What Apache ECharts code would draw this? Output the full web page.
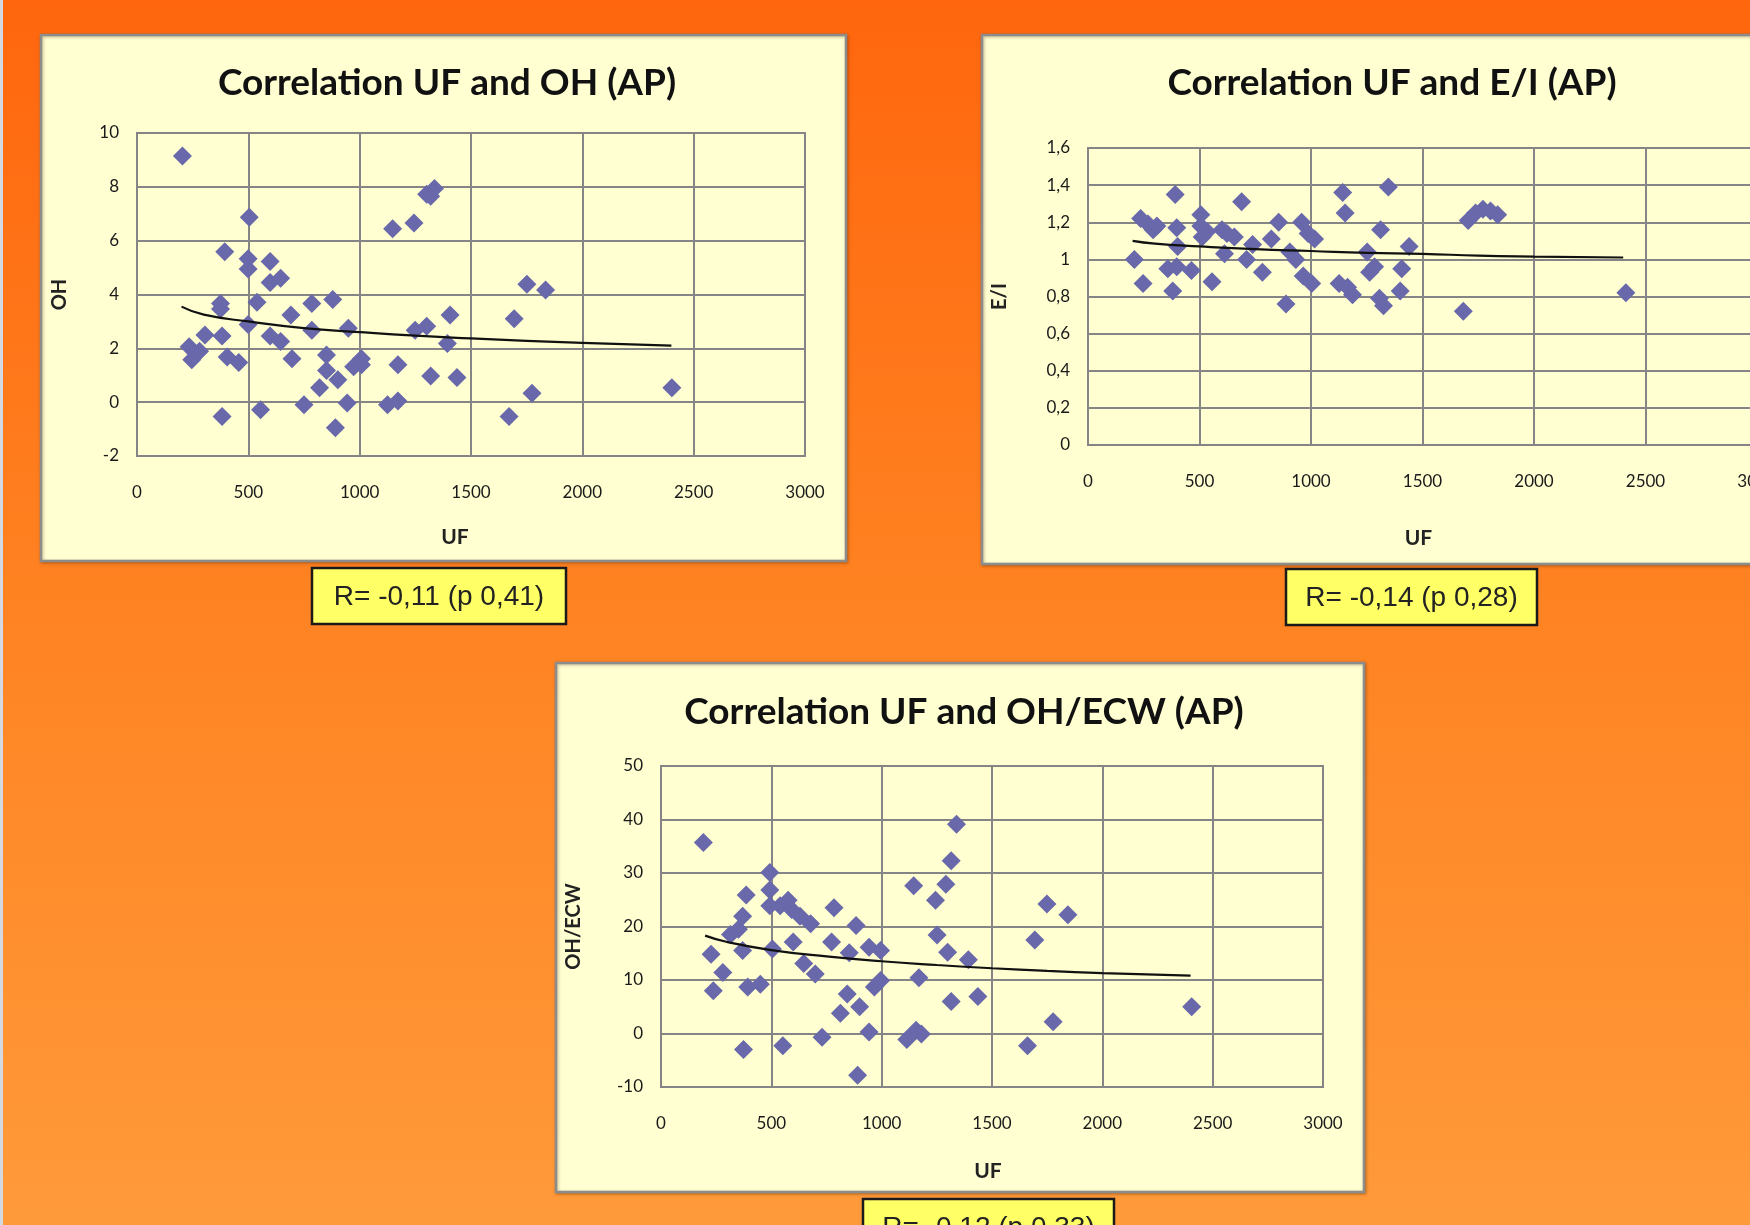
<!DOCTYPE html>
<html>
<head>
<meta charset="utf-8">
<script src="https://cdn.jsdelivr.net/npm/echarts@6/dist/echarts.min.js"></script>
<style>
html,body{margin:0;padding:0;width:1750px;height:1225px;overflow:hidden;}
#c{width:1750px;height:1225px;}
</style>
</head>
<body>
<div id="c"></div>
<script>
// ---- data ----
const titles = ['Correlation UF and OH (AP)', 'Correlation UF and E/I (AP)', 'Correlation UF and OH/ECW (AP)'];
const yNames = ['OH', 'E/I', 'OH/ECW'];
const xName = 'UF';
const rTexts = ['R= -0,11 (p 0,41)', 'R= -0,14 (p 0,28)', 'R= -0,12 (p 0,33)'];

const ohPoints = [[204,9.15],[504,6.87],[394,5.59],[499,5.33],[499,4.95],[598,5.23],[598,4.45],[645,4.6],[375,3.67],[375,3.46],[539,3.71],[499,2.89],[691,3.24],[785,3.67],[879,3.81],[785,2.67],[949,2.75],[382,2.46],[305,2.5],[234,2.06],[246,1.58],[281,1.89],[598,2.46],[645,2.25],[405,1.68],[457,1.47],[696,1.61],[851,1.75],[851,1.18],[902,0.83],[820,0.54],[973,1.32],[1008,1.61],[1008,1.39],[750,-0.1],[944,-0.03],[891,-0.95],[382,-0.53],[555,-0.28],[1125,-0.1],[1172,0.04],[1172,1.39],[1148,6.44],[1244,6.66],[1301,7.72],[1336,7.94],[1319,7.65],[1249,2.67],[1301,2.82],[1406,3.24],[1394,2.18],[1319,0.97],[1437,0.92],[1694,3.1],[1751,4.38],[1835,4.17],[1774,0.33],[1671,-0.53],[2402,0.54]];
const ohTrend = [[200,3.55],[300,3.25],[500,3.0],[750,2.75],[1000,2.6],[1250,2.47],[1500,2.37],[1750,2.28],[2000,2.2],[2400,2.1]];

const eiPoints = [[208,1.0],[236,1.22],[247,0.87],[269,1.19],[292,1.16],[309,1.18],[391,1.35],[398,1.17],[402,1.07],[358,0.95],[398,0.96],[380,0.83],[464,0.94],[506,1.24],[506,1.18],[512,1.12],[534,1.15],[556,0.88],[601,1.16],[623,1.14],[656,1.12],[612,1.03],[689,1.31],[711,1.0],[738,1.08],[782,0.93],[822,1.11],[855,1.2],[888,0.76],[905,1.04],[932,1.0],[958,1.2],[965,0.91],[987,1.14],[1003,0.87],[1016,1.11],[1142,1.36],[1153,1.25],[1126,0.87],[1164,0.85],[1186,0.81],[1252,1.04],[1263,0.93],[1285,0.96],[1312,1.16],[1307,0.79],[1325,0.75],[1347,1.39],[1407,0.95],[1400,0.83],[1440,1.07],[1683,0.72],[1705,1.21],[1738,1.25],[1771,1.27],[1805,1.26],[1837,1.24],[2412,0.82]];
const eiTrend = [[200,1.1],[300,1.085],[500,1.07],[750,1.055],[1000,1.045],[1250,1.035],[1500,1.03],[1750,1.02],[2000,1.015],[2400,1.01]];

const ohEcwPoints = [[192,35.7],[227,14.8],[237,8.0],[280,11.4],[315,18.5],[351,19.5],[370,21.9],[386,25.9],[370,15.5],[393,8.7],[450,9.2],[374,-3.0],[493,30.1],[493,26.8],[493,23.9],[505,15.8],[540,23.9],[576,24.9],[592,23.2],[599,17.1],[630,21.9],[678,20.5],[647,13.1],[699,11.1],[552,-2.3],[730,-0.7],[784,23.5],[773,17.1],[884,20.2],[853,15.1],[844,7.4],[813,3.8],[900,5.0],[943,16.1],[995,15.5],[967,8.7],[995,9.9],[943,0.3],[891,-7.8],[1145,27.6],[1169,10.4],[1114,-1.1],[1156,0.6],[1180,-0.1],[1244,24.9],[1251,18.4],[1291,27.9],[1315,32.3],[1339,39.1],[1299,15.2],[1315,6.0],[1393,13.8],[1436,6.9],[1661,-2.3],[1694,17.5],[1749,24.2],[1844,22.2],[1777,2.2],[2405,5.0]];
const ohEcwTrend = [[200,18.3],[300,17.1],[500,15.6],[750,14.4],[1000,13.5],[1250,12.8],[1500,12.2],[1750,11.7],[2000,11.3],[2400,10.8]];

const xRange = {min: 0, max: 3000, interval: 500};
const yRanges = [{min: -2, max: 10, interval: 2}, {min: 0, max: 1.6, interval: 0.2}, {min: -10, max: 50, interval: 10}];

// ---- layout / style ----
const grids = [
  {left: 137, top: 133, width: 668, height: 323},
  {left: 1088, top: 148, width: 669, height: 297},
  {left: 661, top: 766, width: 662, height: 321}
];
const panels = [
  {x: 41, y: 35, w: 805, h: 526},
  {x: 982, y: 35, w: 820, h: 529},
  {x: 556, y: 663, w: 808, h: 529}
];
const rBoxes = [
  {x: 312, y: 568, w: 254, h: 56},
  {x: 1286, y: 569, w: 251, h: 56},
  {x: 863, y: 1199, w: 251, h: 56}
];
const titlePos = [[442, 60], [1387, 60], [959, 689]];
const xNameGap = [71, 83, 74];
const xNamePad = [[0, 32, 0, 0], [0, 8, 0, 0], [0, 8, 0, 0]];
const yNameGap = [67, 78, 77];

const markColor = '#6868aa';
const gridColor = '#858585';
const FONT = 'Lato, "Open Sans", sans-serif';

function fmtY(v) {
  const r = Math.round(v * 10) / 10;
  return String(r).replace('.', ',');
}
function fmtX(v) {
  return String(v);
}

const chart = echarts.init(document.getElementById('c'), null, {renderer: 'canvas'});

const graphics = [];
// left light strip
graphics.push({type: 'rect', z: -20, shape: {x: 0, y: 0, width: 3, height: 1225}, style: {fill: '#d4d8e0'}});
panels.forEach(p => {
  graphics.push({type: 'rect', z: -10, shape: {x: p.x, y: p.y, width: p.w, height: p.h},
    style: {fill: '#ffffd2', stroke: '#8c8c8c', lineWidth: 2.5,
      shadowColor: 'rgba(80,40,0,0.35)', shadowBlur: 3, shadowOffsetX: 1, shadowOffsetY: 1}});
});
rBoxes.forEach((b, i) => {
  graphics.push({type: 'rect', z: 10, shape: {x: b.x, y: b.y, width: b.w, height: b.h},
    style: {fill: '#ffff66', stroke: '#1a1a1a', lineWidth: 2.5}});
  graphics.push({type: 'text', z: 11, x: b.x + b.w / 2, y: b.y + b.h / 2 + 1,
    style: {text: rTexts[i], fill: '#222', font: '28px "Liberation Sans", Arial, sans-serif',
      align: 'center', verticalAlign: 'middle'}});
});

const series = [];
const pointSets = [ohPoints, eiPoints, ohEcwPoints];
const trendSets = [ohTrend, eiTrend, ohEcwTrend];
for (let i = 0; i < 3; i++) {
  series.push({type: 'scatter', xAxisIndex: i, yAxisIndex: i, data: pointSets[i],
    symbol: 'diamond', symbolSize: 19, itemStyle: {color: markColor, opacity: 1}, z: 3, silent: true});
  series.push({type: 'line', xAxisIndex: i, yAxisIndex: i, data: trendSets[i],
    showSymbol: false, smooth: true, lineStyle: {color: '#111', width: 2.2}, z: 4, silent: true});
}

const option = {
  animation: false,
  backgroundColor: {type: 'linear', x: 0, y: 0, x2: 0, y2: 1,
    colorStops: [{offset: 0, color: '#ff660e'}, {offset: 0.5, color: '#ff8322'}, {offset: 1, color: '#ff9a3a'}]},
  title: titles.map((t, i) => ({text: t, left: titlePos[i][0], top: titlePos[i][1], textAlign: 'center',
    textStyle: {fontFamily: FONT, fontSize: 37, fontWeight: 'bold', color: '#111'}})),
  grid: grids.map(g => Object.assign({show: true, backgroundColor: 'transparent', borderColor: gridColor, borderWidth: 2,
    outerBoundsMode: 'none', containLabel: false}, g)),
  xAxis: grids.map((g, i) => ({type: 'value', gridIndex: i, min: xRange.min, max: xRange.max, interval: xRange.interval,
    name: xName, nameLocation: 'middle', nameGap: xNameGap[i],
    nameTextStyle: {fontFamily: FONT, fontSize: 21, fontWeight: 'bold', color: '#222', padding: xNamePad[i]},
    axisLine: {show: true, lineStyle: {color: gridColor, width: 2}}, axisTick: {show: false},
    axisLabel: {margin: 28, fontFamily: FONT, fontSize: 17, color: '#1a1a1a', showMaxLabel: true, showMinLabel: true,
      hideOverlap: false, formatter: fmtX},
    splitLine: {show: true, lineStyle: {color: gridColor, width: 2}}})),
  yAxis: grids.map((g, i) => ({type: 'value', gridIndex: i, min: yRanges[i].min, max: yRanges[i].max, interval: yRanges[i].interval,
    name: yNames[i], nameLocation: 'middle', nameGap: yNameGap[i], nameRotate: 90,
    nameTextStyle: {fontFamily: FONT, fontSize: 20, fontWeight: 'bold', color: '#222'},
    axisLine: {show: true, lineStyle: {color: gridColor, width: 2}}, axisTick: {show: false},
    axisLabel: {margin: 18, fontFamily: FONT, fontSize: 17, color: '#1a1a1a', formatter: fmtY},
    splitLine: {show: true, lineStyle: {color: gridColor, width: 2}}})),
  graphic: {elements: graphics},
  series: series
};
chart.setOption(option);
</script>
</body>
</html>
